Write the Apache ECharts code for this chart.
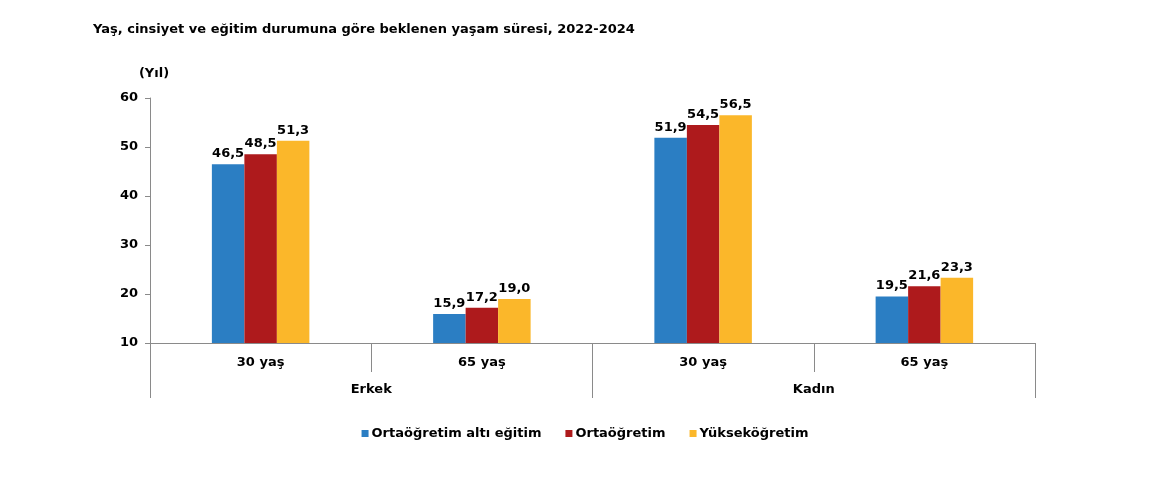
<!DOCTYPE html>
<html>
<head>
<meta charset="utf-8">
<script src="https://cdn.jsdelivr.net/npm/echarts@6/dist/echarts.min.js"></script>
<style>html,body{margin:0;padding:0;background:#fff;}#c{width:1170px;height:491px;}</style>
</head>
<body>
<div id="c"></div>
<script>
const subCategories = ['30 yaş', '65 yaş', '30 yaş', '65 yaş'];
const groups = ['Erkek', 'Kadın'];
const seriesNames = ['Ortaöğretim altı eğitim', 'Ortaöğretim', 'Yükseköğretim'];
const altiEgitim = [46.5, 15.9, 51.9, 19.5];
const ortaogretim = [48.5, 17.2, 54.5, 21.6];
const yuksekogretim = [51.3, 19.0, 56.5, 23.3];
const colors = ['#2B7EC3', '#AE1A1C', '#FBB72A'];
const font = 'DejaVu Sans, Arial, sans-serif';

const chart = echarts.init(document.getElementById('c'));
const mk = (name, data, i) => ({
  name, type: 'bar', data, xAxisIndex: 0, barWidth: 32.5, barGap: '0%',
  itemStyle: { color: colors[i] },
  label: { show: true, position: 'top', distance: 4, color: '#000', fontWeight: 'bold', fontSize: 13, fontFamily: font,
    formatter: p => p.value.toFixed(1).replace('.', ',') }
});
chart.setOption({
  animation: false,
  backgroundColor: '#fff',
  title: { text: 'Yaş, cinsiyet ve eğitim durumuna göre beklenen yaşam süresi, 2022-2024', left: 88, top: 18,
    textStyle: { fontSize: 13, fontWeight: 'bold', color: '#000', fontFamily: font } },
  legend: { bottom: 46, left: 'center', itemWidth: 7, itemHeight: 7, itemGap: 24, icon: 'rect',
    textStyle: { fontSize: 13, fontWeight: 'bold', color: '#000', fontFamily: font, padding: [0, 0, 0, -2] } },
  grid: { left: 150, right: 135, top: 98, bottom: 148, containLabel: false },
  xAxis: [
    { type: 'category', data: subCategories, position: 'bottom',
      axisLine: { lineStyle: { color: '#8a8a8a' } },
      axisTick: { show: true, length: 29, interval: 0, lineStyle: { color: '#8a8a8a', width: 1 } },
      axisLabel: { margin: 13, color: '#000', fontWeight: 'bold', fontSize: 13, fontFamily: font } },
    { type: 'category', data: groups, position: 'bottom',
      axisLine: { show: false },
      axisTick: { show: true, length: 55, interval: 0, lineStyle: { color: '#8a8a8a', width: 1 } },
      axisLabel: { margin: 40, color: '#000', fontWeight: 'bold', fontSize: 13, fontFamily: font } }
  ],
  yAxis: { type: 'value', min: 10, max: 60, interval: 10, name: '(Yıl)', nameLocation: 'end', nameGap: 18,
    nameTextStyle: { color: '#000', fontWeight: 'bold', fontSize: 13, fontFamily: font, align: 'center', padding: [0, 0, 0, 8] },
    axisLine: { show: true, lineStyle: { color: '#8a8a8a' } },
    axisTick: { show: true, length: 5, lineStyle: { color: '#8a8a8a' } },
    splitLine: { show: false },
    axisLabel: { margin: 12, color: '#000', fontWeight: 'bold', fontSize: 13, fontFamily: font } },
  series: [mk(seriesNames[0], altiEgitim, 0), mk(seriesNames[1], ortaogretim, 1), mk(seriesNames[2], yuksekogretim, 2)]
});
</script>
</body>
</html>
